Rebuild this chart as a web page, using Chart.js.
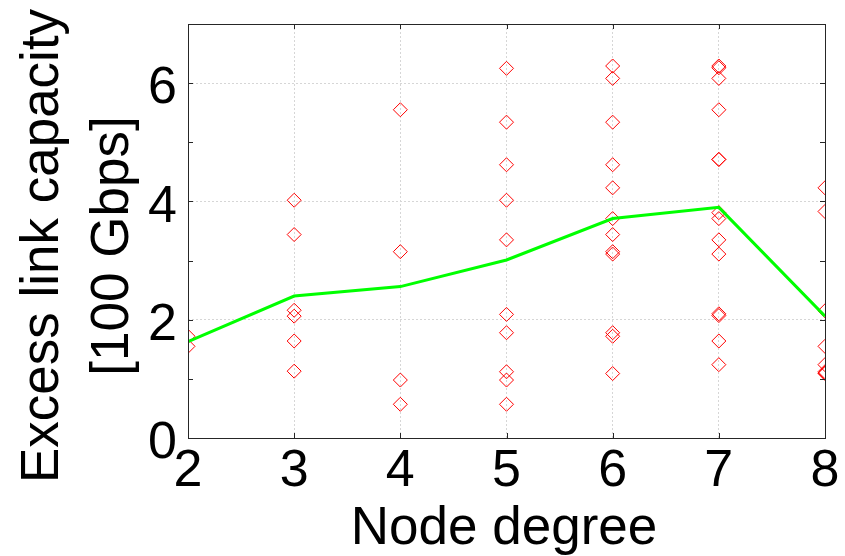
<!DOCTYPE html>
<html>
<head>
<meta charset="utf-8">
<script src="https://cdn.jsdelivr.net/npm/chart.js@4/dist/chart.umd.min.js"></script>
<style>
    body { margin: 0; background: #fff; }
    #chart { display: block; }
</style>
</head>
<body>
<canvas id="chart" width="845" height="556"></canvas>
<script>
// node degrees on the x axis
var degrees = [2, 3, 4, 5, 6, 7, 8];

// excess link capacity of every link, grouped by node degree [100 Gbps]
var capDeg2 = [1.72, 1.55];
var capDeg3 = [4.02, 3.44, 2.16, 2.06, 1.64, 1.13];
var capDeg4 = [5.55, 3.15, 0.98, 0.57];
var capDeg5 = [6.25, 5.34, 4.62, 4.02, 3.35, 2.09, 1.78, 1.12, 0.98, 0.57];
var capDeg6 = [6.29, 6.08, 5.34, 4.62, 4.23, 3.71, 3.44, 3.15, 3.11, 1.78, 1.72, 1.09];
var capDeg7 = [6.29, 6.26, 6.08, 5.55, 4.71, 4.71, 3.81, 3.71, 3.35, 3.11, 2.10, 2.07, 1.64, 1.24];
var capDeg8 = [4.23, 3.83, 2.15, 1.55, 1.24, 1.12, 1.10, 1.09];

// mean per degree (green line)
var meanCap = [1.63, 2.40, 2.56, 3.01, 3.71, 3.90, 2.06];

var yTicks = [0, 2, 4, 6];
var xTitle = 'Node degree';
var yTitle = ['Excess link capacity', '[100 Gbps]'];

var FONT = "'Liberation Sans', Arial, sans-serif";

var samples = [capDeg2, capDeg3, capDeg4, capDeg5, capDeg6, capDeg7, capDeg8];
var points = [];
samples.forEach(function(list, i){
    list.forEach(function(v){
        points.push({x: degrees[i], y: v});
    });
});
var meanPoints = degrees.map(function(d, i){
    return {x: d, y: meanCap[i]};
});

// box, inward ticks and axis titles (MATLAB look)
var frame = {
    id: 'frame',
    afterDraw: function(chart) {
        var ctx = chart.ctx;
        var a = chart.chartArea;
        var xs = chart.scales.x, ys = chart.scales.y;
        ctx.save();
        ctx.setLineDash([]);
        ctx.strokeStyle = '#262626';
        ctx.lineWidth = 1;
        ctx.strokeRect(Math.round(a.left) + 0.5, Math.round(a.top) + 0.5,
            Math.round(a.right - a.left), Math.round(a.bottom - a.top));
        ctx.beginPath();
        var len = 5;
        degrees.forEach(function(d){
            var px = Math.round(xs.getPixelForValue(d)) + 0.5;
            ctx.moveTo(px, a.bottom); ctx.lineTo(px, a.bottom - len);
            ctx.moveTo(px, a.top); ctx.lineTo(px, a.top + len);
        });
        for (var v = 0; v <= 7; v++) {
            var py = Math.round(ys.getPixelForValue(v)) + 0.5;
            ctx.moveTo(a.left, py); ctx.lineTo(a.left + len, py);
            ctx.moveTo(a.right, py); ctx.lineTo(a.right - len, py);
        }
        ctx.stroke();

        ctx.fillStyle = '#000';
        ctx.font = '53px ' + FONT;
        ctx.textAlign = 'center';
        ctx.textBaseline = 'alphabetic';
        ctx.fillText(xTitle, 504, 544);

        var lineX = [58, 128];
        yTitle.forEach(function(t, i){
            ctx.save();
            ctx.translate(lineX[i], 246);
            ctx.rotate(-Math.PI / 2);
            ctx.fillText(t, 0, 0);
            ctx.restore();
        });
        ctx.restore();
    }
};

new Chart(document.getElementById('chart'), {
    type: 'scatter',
    data: {
        datasets: [{
            label: 'mean',
            data: meanPoints,
            showLine: true,
            borderColor: '#00ff00',
            backgroundColor: '#00ff00',
            borderWidth: 3,
            pointRadius: 0,
            pointHoverRadius: 0,
            fill: false,
            order: 0
        }, {
            label: 'links',
            data: points,
            borderColor: '#ff0000',
            backgroundColor: 'rgba(255,255,255,0)',
            pointStyle: 'rectRot',
            pointRadius: 7,
            pointHoverRadius: 7,
            pointBorderWidth: 1,
            pointHoverBorderWidth: 1,
            pointBorderColor: '#ff0000',
            pointHoverBorderColor: '#ff0000',
            pointBackgroundColor: 'rgba(255,255,255,0)',
            pointHoverBackgroundColor: 'rgba(255,255,255,0)',
            order: 1
        }]
    },
    options: {
        responsive: false,
        animation: false,
        events: [],
        layout: {
            padding: {top: 24, right: 20, left: 0, bottom: 0}
        },
        plugins: {
            legend: {display: false},
            tooltip: {enabled: false}
        },
        scales: {
            x: {
                type: 'linear',
                min: 2,
                max: 8,
                afterFit: function(scale){
                    scale.height = 118;
                    scale.paddingLeft = 0;
                    scale.paddingRight = 0;
                },
                grid: {color: '#d6d6d6', drawTicks: false},
                border: {display: false, dash: [2, 2]},
                ticks: {
                    stepSize: 1,
                    padding: 2,
                    color: '#000',
                    font: {family: FONT, size: 52}
                }
            },
            y: {
                min: 0,
                max: 7,
                afterFit: function(scale){
                    scale.width = 188;
                    scale.paddingTop = 0;
                    scale.paddingBottom = 0;
                },
                grid: {color: '#d6d6d6', drawTicks: false},
                border: {display: false, dash: [2, 2]},
                ticks: {
                    stepSize: 1,
                    padding: 11,
                    labelOffset: 6,
                    color: '#000',
                    font: {family: FONT, size: 52},
                    callback: function(v){
                        return yTicks.indexOf(v) >= 0 ? v : '';
                    }
                }
            }
        }
    },
    plugins: [frame]
});
</script>
</body>
</html>
